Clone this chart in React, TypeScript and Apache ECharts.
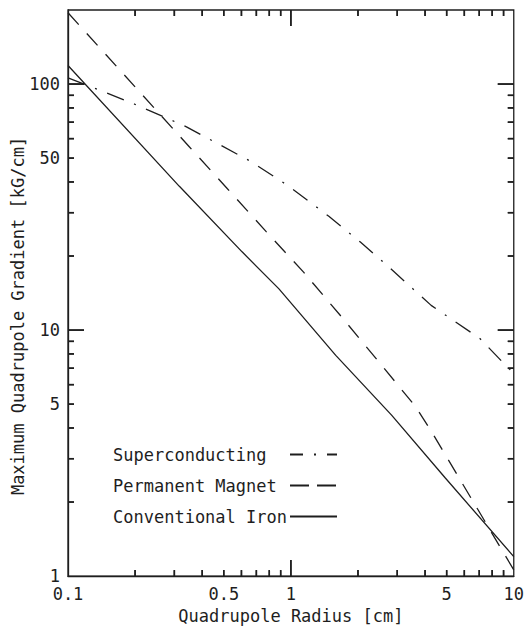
import React, { useEffect, useRef } from "react";
import * as echarts from "echarts";

// Quadrupole radius [cm] and maximum gradient [kG/cm]
const radiusIron = [0.1, 0.316, 0.604, 0.884, 1.59, 2.83, 4.92, 10];
const gradIron = [119, 38.4, 20.8, 14.7, 7.89, 4.51, 2.51, 1.2];

const radiusPM = [0.1, 0.35, 0.513, 0.773, 1.14, 1.69, 2.47, 3.61, 4.26, 6.7, 10];
const gradPM = [195, 55.6, 38, 25.2, 17.2, 11.3, 7.46, 4.91, 3.89, 1.95, 1.06];

const radiusSC = [0.1, 0.142, 0.193, 0.263, 0.34, 0.663, 0.98, 1.48, 2.05, 2.65, 4.26, 7.05, 9.2, 10];
const gradSC = [106, 93.7, 83.8, 74.3, 67, 48.4, 38.4, 29, 22.8, 18.6, 12.6, 9.24, 7.19, 6.67];

const seriesNames = ["Superconducting", "Permanent Magnet", "Conventional Iron"];

const X_MIN = 0.1;
const X_MAX = 10;
const Y_MIN = 1;
const Y_MAX = 200;
const xMinorTicks = [0.2, 0.3, 0.4, 0.5, 0.6, 0.7, 0.8, 0.9, 2, 3, 4, 5, 6, 7, 8, 9];
const xMajorTicks = [1];
const xLabels = [0.1, 0.5, 1, 5, 10];
const yMinorTicks = [2, 3, 4, 5, 6, 7, 8, 9, 20, 30, 40, 50, 60, 70, 80, 90];
const yMajorTicks = [10, 100];
const yLabels = [1, 5, 10, 50, 100];

const xTitle = "Quadrupole Radius [cm]";
const yTitle = "Maximum Quadrupole Gradient [kG/cm]";

const FONT = "DejaVu Sans Mono";
const INK = "#1e1e1e";
const MINOR = 6;
const MAJOR = 16;
const TW = 1.5;

const pairs = (xs: number[], ys: number[]) => xs.map((x, i) => [x, ys[i]]);
const fmt = (v: number) => String(+(+v).toPrecision(3));

export default function App() {
  const ref = useRef<HTMLDivElement>(null);

  useEffect(() => {
    if (!ref.current) return;
    const chart = echarts.init(ref.current, undefined, { renderer: "svg" });

    const titleGraphic = {
      type: "text",
      x: 18,
      y: 316,
      rotation: Math.PI / 2,
      style: {
        text: yTitle,
        font: `17px "${FONT}"`,
        fill: INK,
        align: "center",
        verticalAlign: "middle",
        textAlign: "center",
        textVerticalAlign: "middle",
      },
    };

    const tickSeries = (data: number[][], size: number[], offset: number[]) => ({
      type: "scatter",
      xAxisIndex: 0,
      yAxisIndex: 0,
      symbol: "rect",
      symbolSize: size,
      symbolOffset: offset,
      itemStyle: { color: INK, opacity: 1 },
      emphasis: { disabled: true },
      tooltip: { show: false },
      data,
      z: 5,
    });

    chart.setOption({
      animation: false,
      grid: {
        left: 68,
        right: 11,
        top: 10,
        bottom: 50,
        containLabel: false,
        show: true,
        borderColor: INK,
        borderWidth: 1.3,
        backgroundColor: "transparent",
      },
      xAxis: {
        type: "log",
        logBase: 10,
        min: X_MIN,
        max: X_MAX,
        axisLine: { show: true, onZero: false, lineStyle: { color: INK, width: 1.3 } },
        axisTick: { show: false },
        axisLabel: { customValues: xLabels, margin: 9, fontFamily: FONT, fontSize: 17, color: INK, formatter: fmt },
        splitLine: { show: false },
        name: xTitle,
        nameLocation: "middle",
        nameGap: 27,
        nameTextStyle: { fontFamily: FONT, fontSize: 17, color: INK },
      },
      yAxis: {
        type: "log",
        logBase: 10,
        min: Y_MIN,
        max: Y_MAX,
        axisLine: { show: true, onZero: false, lineStyle: { color: INK, width: 1.3 } },
        axisTick: { show: false },
        axisLabel: { customValues: yLabels, margin: 8, fontFamily: FONT, fontSize: 17, color: INK, formatter: fmt },
        splitLine: { show: false },
      },
      legend: {
        orient: "vertical",
        left: 108,
        top: 441,
        align: "right",
        itemWidth: 47,
        itemHeight: 14,
        itemGap: 14,
        selectedMode: false,
        itemStyle: { opacity: 0 },
        formatter: (name: string) => `{n|${name}}`,
        textStyle: {
          fontFamily: FONT,
          fontSize: 17,
          color: INK,
          rich: { n: { width: 172, align: "left", fontFamily: FONT, fontSize: 17, color: INK, lineHeight: 18 } },
        },
        data: [
          { name: seriesNames[0], lineStyle: { type: [13, 11, 2, 11] } },
          { name: seriesNames[1], lineStyle: { type: [19, 8] } },
          { name: seriesNames[2] },
        ],
      },
      graphic: [titleGraphic],
      series: [
        {
          name: seriesNames[0],
          type: "line",
          data: pairs(radiusSC, gradSC),
          symbol: "none",
          lineStyle: { color: INK, width: 1.3, type: [18, 11, 2, 11] },
          itemStyle: { color: INK },
        },
        {
          name: seriesNames[1],
          type: "line",
          data: pairs(radiusPM, gradPM),
          symbol: "none",
          lineStyle: { color: INK, width: 1.3, type: [16, 12] },
          itemStyle: { color: INK },
        },
        {
          name: seriesNames[2],
          type: "line",
          data: pairs(radiusIron, gradIron),
          symbol: "none",
          lineStyle: { color: INK, width: 1.3, type: "solid" },
          itemStyle: { color: INK },
        },
        // inward ticks on all four sides, placed through the axes' log scales
        tickSeries(xMinorTicks.map((v) => [v, Y_MIN]), [TW, MINOR], [0, -MINOR / 2]),
        tickSeries(xMajorTicks.map((v) => [v, Y_MIN]), [TW, MAJOR], [0, -MAJOR / 2]),
        tickSeries(xMinorTicks.map((v) => [v, Y_MAX]), [TW, MINOR], [0, MINOR / 2]),
        tickSeries(xMajorTicks.map((v) => [v, Y_MAX]), [TW, MAJOR], [0, MAJOR / 2]),
        tickSeries(yMinorTicks.map((v) => [X_MIN, v]), [MINOR, TW], [MINOR / 2, 0]),
        tickSeries(yMajorTicks.map((v) => [X_MIN, v]), [MAJOR, TW], [MAJOR / 2, 0]),
        tickSeries(yMinorTicks.map((v) => [X_MAX, v]), [MINOR, TW], [-MINOR / 2, 0]),
        tickSeries(yMajorTicks.map((v) => [X_MAX, v]), [MAJOR, TW], [-MAJOR / 2, 0]),
      ],
    });

    // the same ticks again as graphic lines, converted through the axes' scales
    const px = (x: number, y: number): number[] =>
      chart.convertToPixel({ xAxisIndex: 0, yAxisIndex: 0 } as any, [x, y]) as any;
    const ticks: any[] = [];
    const addLine = (x1: number, y1: number, x2: number, y2: number) => {
      if ([x1, y1, x2, y2].every((n) => typeof n === "number" && isFinite(n))) {
        ticks.push({ type: "line", shape: { x1, y1, x2, y2 }, style: { stroke: INK, lineWidth: TW }, z: 50 });
      }
    };
    const xTicks = (vals: number[], len: number) =>
      vals.forEach((v) => {
        const b = px(v, Y_MIN) || [NaN, NaN];
        const t = px(v, Y_MAX) || [NaN, NaN];
        addLine(b[0], b[1], b[0], b[1] - len);
        addLine(t[0], t[1], t[0], t[1] + len);
      });
    const yTicks = (vals: number[], len: number) =>
      vals.forEach((v) => {
        const l = px(X_MIN, v) || [NaN, NaN];
        const r = px(X_MAX, v) || [NaN, NaN];
        addLine(l[0], l[1], l[0] + len, l[1]);
        addLine(r[0], r[1], r[0] - len, r[1]);
      });
    try {
      xTicks(xMinorTicks, MINOR);
      xTicks(xMajorTicks, MAJOR);
      yTicks(yMinorTicks, MINOR);
      yTicks(yMajorTicks, MAJOR);
      chart.setOption({ graphic: [titleGraphic, ...ticks] });
    } catch (e) {
      console.log(e);
    }

    return () => chart.dispose();
  }, []);

  return <div ref={ref} style={{ position: "absolute", left: 0, top: 0, width: 527, height: 629 }} />;
}
